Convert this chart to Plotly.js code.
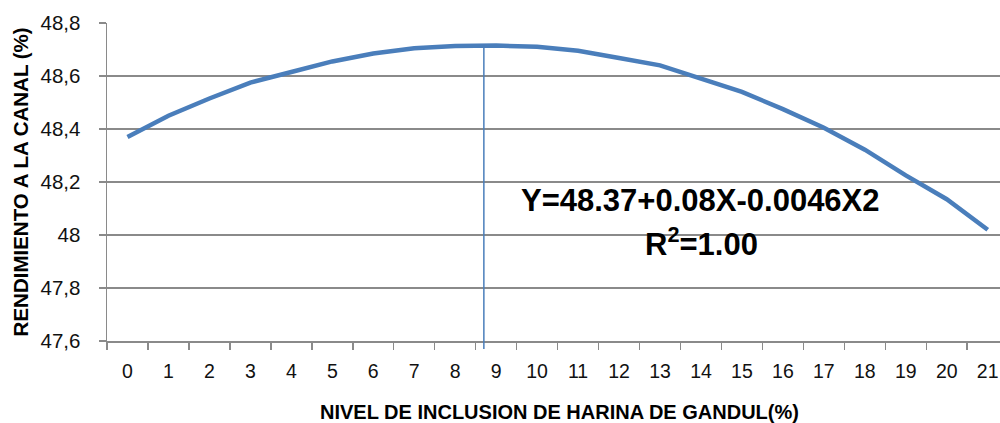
<!DOCTYPE html>
<html>
<head>
<meta charset="utf-8">
<script src="https://cdn.plot.ly/plotly-3.0.1.min.js"></script>
<style>html,body{margin:0;padding:0;background:#fff;}#chart{width:1000px;height:423px;}</style>
</head>
<body>
<div id="chart"></div>
<script>
// Data
const categories = ["0","1","2","3","4","5","6","7","8","9","10","11","12","13","14","15","16","17","18","19","20","21"];
const rendimiento = [48.37, 48.45, 48.515, 48.575, 48.615, 48.655, 48.685, 48.705, 48.713, 48.715, 48.71, 48.695, 48.668, 48.64, 48.59, 48.54, 48.475, 48.405, 48.322, 48.225, 48.135, 48.02];
const vertexX = [8.7];          // optimum inclusion level (category index)
const vertexY = [48.715];       // optimum value
const yRange = [47.6, 48.8];
const equationText = "Y=48.37+0.08X-0.0046X2";
const r2Text = "R<sup>2</sup>=1.00";
const xTitle = "NIVEL DE INCLUSION DE HARINA DE GANDUL(%)";
const yTitle = "RENDIMIENTO A LA CANAL (%)";

const blue = "#4a7ebb";
const gray = "#8a8a8a";
const font = "Liberation Sans, Arial, sans-serif";

const trace = {
  x: categories, y: rendimiento, type: "scatter", mode: "lines",
  line: {color: blue, width: 4.5}, hoverinfo: "skip"
};

const yspan = yRange[1] - yRange[0];
const layout = {
  width: 1000, height: 423,
  margin: {l: 107, r: 0, t: 23, b: 82},
  paper_bgcolor: "#fff", plot_bgcolor: "#fff",
  separators: ", ",
  showlegend: false,
  font: {family: font, color: "#000"},
  xaxis: {
    type: "category", range: [-0.5, 21.3],
    tickson: "boundaries", ticks: "outside", ticklen: 7, tickcolor: gray, tickwidth: 1.5,
    showline: true, linecolor: gray, linewidth: 1.5,
    showgrid: false, zeroline: false,
    tickfont: {size: 19.5, family: font, color: "#111"},
    ticklabelstandoff: 12
  },
  yaxis: {
    range: yRange, dtick: 0.2, tick0: 47.6,
    ticks: "outside", ticklen: 7, tickcolor: gray, tickwidth: 1.5,
    showline: true, linecolor: gray, linewidth: 1.5,
    showgrid: true, gridcolor: gray, gridwidth: 1.5, zeroline: false,
    tickfont: {size: 20.5, family: font, color: "#111"},
    ticklabelstandoff: 14
  },
  shapes: [{
    type: "line", xref: "x", yref: "paper",
    x0: vertexX[0], x1: vertexX[0],
    y0: -0.025, y1: (vertexY[0] - yRange[0]) / yspan,
    line: {color: blue, width: 1.5}
  }],
  annotations: [
    {text: "<b>" + yTitle + "</b>", xref: "paper", yref: "paper", x: -0.097, y: 0.5,
     textangle: -90, showarrow: false, xanchor: "center", yanchor: "middle",
     font: {size: 20.5, family: font, color: "#000"}},
    {text: "<b>" + xTitle + "</b>", xref: "paper", yref: "paper", x: 0.507, y: -0.222,
     showarrow: false, xanchor: "center", yanchor: "middle",
     font: {size: 20, family: font, color: "#000"}},
    {text: "<b>" + equationText + "</b>", xref: "paper", yref: "paper", x: 0.665, y: 0.443,
     showarrow: false, xanchor: "center", yanchor: "middle",
     font: {size: 31, family: font, color: "#000"}},
    {text: "<b>" + r2Text + "</b>", xref: "paper", yref: "paper", x: 0.666, y: 0.31,
     showarrow: false, xanchor: "center", yanchor: "middle",
     font: {size: 31, family: font, color: "#000"}}
  ]
};

Plotly.newPlot("chart", [trace], layout, {displayModeBar: false, staticPlot: true});
</script>
</body>
</html>
